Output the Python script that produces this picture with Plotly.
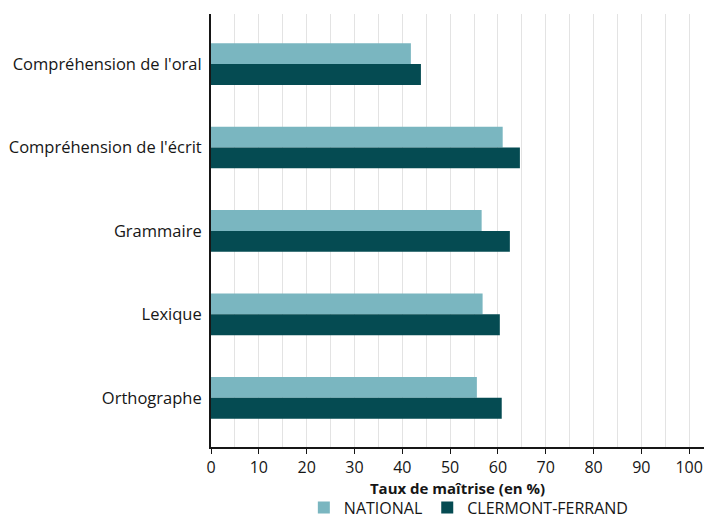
import plotly.graph_objects as go

categories = ["Compréhension de l'oral", "Compréhension de l'écrit", "Grammaire", "Lexique", "Orthographe"]
national = [41.8, 61.0, 56.6, 56.8, 55.6]
clermont = [43.9, 64.6, 62.5, 60.4, 60.8]
series_names = ["NATIONAL", "CLERMONT-FERRAND"]
tick_vals = [0, 10, 20, 30, 40, 50, 60, 70, 80, 90, 100]

FONT = "Open Sans"

fig = go.Figure()
fig.add_trace(go.Bar(y=categories, x=national, name=series_names[0], orientation="h",
                     marker=dict(color="#7AB6C0", line=dict(width=0))))
fig.add_trace(go.Bar(y=categories, x=clermont, name=series_names[1], orientation="h",
                     marker=dict(color="#054B52", line=dict(width=0))))

fig.update_layout(
    width=707, height=518,
    margin=dict(l=211, r=3, t=14, b=71, autoexpand=False),
    paper_bgcolor="white", plot_bgcolor="white",
    barmode="group", bargap=0.5, bargroupgap=0,
    font=dict(family=FONT, color="#161616", size=16.5),
    showlegend=True,
    legend=dict(orientation="h", x=0.523, xanchor="center", y=-0.14, yanchor="middle",
                font=dict(size=16), itemsizing="constant", traceorder="normal",
                itemwidth=30),
)
fig.update_xaxes(
    range=[0, 103.1], tickvals=tick_vals, ticks="outside", ticklen=5, tickcolor="#161616",
    showline=True, linecolor="#161616", linewidth=1.5,
    showgrid=True, gridcolor="#e3e3e3", gridwidth=1,
    minor=dict(dtick=5, showgrid=True, gridcolor="#e3e3e3", gridwidth=1, ticks=""),
    tickfont=dict(size=16), ticklabeloverflow="allow",
    title=dict(text="<b>Taux de maîtrise (en %)</b>", font=dict(size=15), standoff=4),
    zeroline=False, automargin=False,
)
fig.update_yaxes(
    type="category", range=[4.59, -0.6], showline=True, linecolor="#161616", linewidth=2,
    showgrid=False, ticks="", tickfont=dict(size=16.5), ticklabelstandoff=4,
    automargin=False,
)

# remove the default 8px body margin so the figure fills the window exactly
post = "document.body.style.margin='0';document.body.style.overflow='hidden';"
fig.write_html("out.html", post_script=post, config={"displayModeBar": False})
